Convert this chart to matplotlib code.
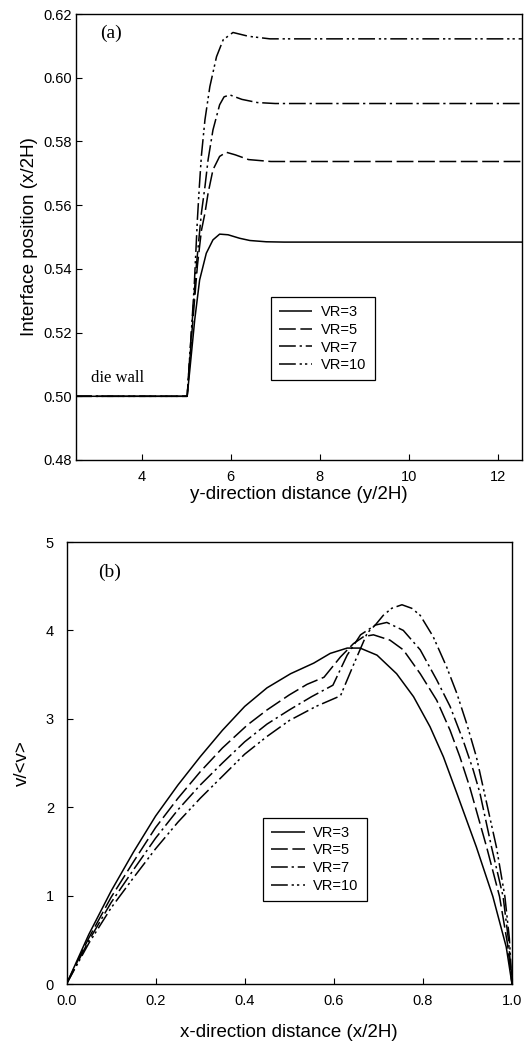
import matplotlib
matplotlib.use("Agg")
import matplotlib.pyplot as plt
from matplotlib.ticker import FormatStrFormatter

plt.rcParams['font.family'] = ['Liberation Sans', 'DejaVu Sans']

# ---------------- data: panel (a) interface position ----------------
labels = ["VR=3", "VR=5", "VR=7", "VR=10"]

a_x_vr3 = [2.5, 5.02, 5.08, 5.19, 5.30, 5.45, 5.60, 5.75, 5.94, 6.20, 6.43, 6.8, 7.2, 12.6]
a_y_vr3 = [0.5, 0.5, 0.5083, 0.524, 0.5365, 0.5449, 0.5491, 0.5509, 0.5507, 0.5496, 0.5489, 0.5485, 0.5484, 0.5484]

a_x_vr5 = [2.5, 5.02, 5.12, 5.25, 5.34, 5.42, 5.49, 5.60, 5.75, 5.90, 6.10, 6.40, 6.90, 12.6]
a_y_vr5 = [0.5, 0.5, 0.519, 0.541, 0.552, 0.5575, 0.5637, 0.5711, 0.5753, 0.5766, 0.5758, 0.5743, 0.5737, 0.5737]

a_x_vr7 = [2.5, 5.02, 5.11, 5.22, 5.34, 5.42, 5.49, 5.60, 5.75, 5.85, 5.98, 6.25, 6.60, 7.0, 12.6]
a_y_vr7 = [0.5, 0.5, 0.519, 0.540, 0.5575, 0.5658, 0.5742, 0.5836, 0.5915, 0.5940, 0.5946, 0.5932, 0.5922, 0.5919, 0.5919]

a_x_vr10 = [2.5, 5.02, 5.10, 5.18, 5.25, 5.29, 5.34, 5.42, 5.53, 5.68, 5.83, 6.05, 6.4, 6.88, 12.6]
a_y_vr10 = [0.5, 0.5, 0.517, 0.535, 0.5555, 0.5650, 0.5755, 0.5868, 0.5972, 0.6066, 0.6119, 0.6142, 0.6130, 0.6122, 0.6122]

a_xticks = [4, 6, 8, 10, 12]
a_yticks = [0.48, 0.50, 0.52, 0.54, 0.56, 0.58, 0.60, 0.62]

# ---------------- data: panel (b) velocity profile ----------------
b_x_vr3 = [0, 0.05, 0.10, 0.15, 0.20, 0.25, 0.30, 0.35, 0.40, 0.45, 0.503, 0.555,
           0.592, 0.630, 0.659, 0.697, 0.741, 0.779, 0.816, 0.846, 0.876, 0.920, 0.957, 0.987, 1.0]
b_y_vr3 = [0, 0.56, 1.05, 1.49, 1.90, 2.25, 2.57, 2.87, 3.14, 3.35, 3.51, 3.63,
           3.74, 3.80, 3.80, 3.72, 3.51, 3.25, 2.91, 2.57, 2.16, 1.55, 0.99, 0.42, 0]

b_x_vr5 = [0, 0.05, 0.10, 0.15, 0.20, 0.25, 0.30, 0.35, 0.406, 0.45, 0.50, 0.54, 0.578, 0.615,
           0.644, 0.667, 0.689, 0.726, 0.756, 0.794, 0.831, 0.861, 0.883, 0.905, 0.943, 0.972, 0.990, 1.0]
b_y_vr5 = [0, 0.52, 0.98, 1.38, 1.77, 2.10, 2.40, 2.67, 2.93, 3.10, 3.27, 3.39, 3.47, 3.70,
           3.85, 3.93, 3.95, 3.89, 3.78, 3.51, 3.21, 2.87, 2.57, 2.23, 1.55, 0.99, 0.45, 0]

b_x_vr7 = [0, 0.05, 0.10, 0.15, 0.20, 0.25, 0.30, 0.35, 0.40, 0.45, 0.50, 0.55, 0.598, 0.630, 0.660,
           0.693, 0.719, 0.756, 0.794, 0.831, 0.861, 0.890, 0.913, 0.928, 0.954, 0.980, 0.992, 1.0]
b_y_vr7 = [0, 0.49, 0.92, 1.29, 1.65, 1.97, 2.25, 2.50, 2.74, 2.94, 3.10, 3.25, 3.38, 3.72, 3.95,
           4.06, 4.09, 4.00, 3.78, 3.44, 3.14, 2.76, 2.42, 2.16, 1.55, 0.99, 0.50, 0]

b_x_vr10 = [0, 0.05, 0.10, 0.15, 0.20, 0.25, 0.30, 0.35, 0.40, 0.45, 0.50, 0.56, 0.615, 0.645,
            0.675, 0.693, 0.711, 0.730, 0.753, 0.775, 0.794, 0.823, 0.853, 0.876, 0.898, 0.920, 0.935,
            0.965, 0.984, 0.994, 1.0]
b_y_vr10 = [0, 0.46, 0.86, 1.20, 1.53, 1.83, 2.10, 2.35, 2.60, 2.80, 2.98, 3.14, 3.26, 3.62,
            3.97, 4.06, 4.17, 4.25, 4.29, 4.25, 4.17, 3.93, 3.59, 3.29, 2.95, 2.57, 2.23,
            1.55, 0.99, 0.52, 0]

b_xticks = [0.0, 0.2, 0.4, 0.6, 0.8, 1.0]
b_yticks = [0, 1, 2, 3, 4, 5]

# ---------------- styles ----------------
dash_styles = [
    (0, ()),
    (0, (11, 3)),
    (0, (11, 2.5, 1.5, 2.5)),
    (0, (11, 2.5, 1.5, 2, 1.5, 2.5)),
]
lw = 1.1

fig = plt.figure(figsize=(5.25, 10.47), dpi=100)

ax1 = fig.add_axes([76 / 525, 1 - 460 / 1047, 446 / 525, 446 / 1047])
ax2 = fig.add_axes([66.5 / 525, 1 - 984 / 1047, 445.5 / 525, 442 / 1047])

series_a = [(a_x_vr3, a_y_vr3), (a_x_vr5, a_y_vr5), (a_x_vr7, a_y_vr7), (a_x_vr10, a_y_vr10)]
series_b = [(b_x_vr3, b_y_vr3), (b_x_vr5, b_y_vr5), (b_x_vr7, b_y_vr7), (b_x_vr10, b_y_vr10)]

for (x, y), ls, lab in zip(series_a, dash_styles, labels):
    ax1.plot(x, y, color='black', lw=lw, linestyle=ls, label=lab)
for (x, y), ls, lab in zip(series_b, dash_styles, labels):
    ax2.plot(x, y, color='black', lw=lw, linestyle=ls, label=lab)

ax1.set_xlim(2.52, 12.55)
ax1.set_ylim(0.48, 0.62)
ax1.set_xticks(a_xticks)
ax1.set_yticks(a_yticks)
ax1.yaxis.set_major_formatter(FormatStrFormatter('%.2f'))
ax1.set_xlabel("y-direction distance (y/2H)", fontsize=13.5, labelpad=2)
ax1.set_ylabel("Interface position (x/2H)", fontsize=13.5, labelpad=4)
ax1.tick_params(axis='x', direction='in', length=4, width=0.8, labelsize=10.5, pad=7)
ax1.tick_params(axis='y', direction='in', length=4, width=0.8, labelsize=10.5, pad=3)
ax1.text(3.06, 0.614, "(a)", family='Liberation Serif', fontsize=14, va='center', ha='left')
ax1.text(2.86, 0.5057, "die wall", family='Liberation Serif', fontsize=12, va='center', ha='left')

ax2.set_xlim(0, 1.0)
ax2.set_ylim(0, 5)
ax2.set_xticks(b_xticks)
ax2.set_yticks(b_yticks)
ax2.xaxis.set_major_formatter(FormatStrFormatter('%.1f'))
ax2.set_xlabel("x-direction distance (x/2H)", fontsize=13.5, labelpad=12)
ax2.set_ylabel("v/<v>", fontsize=13.5, labelpad=11)
ax2.tick_params(axis='x', direction='in', length=4, width=0.8, labelsize=10.5, pad=7)
ax2.tick_params(axis='y', direction='in', length=4, width=0.8, labelsize=10.5, pad=9)
ax2.text(0.07, 4.66, "(b)", family='Liberation Serif', fontsize=14, va='center', ha='left')

for ax in (ax1, ax2):
    for s in ax.spines.values():
        s.set_linewidth(1.0)

leg_kw = dict(fontsize=10.5, frameon=True, fancybox=False, framealpha=1, edgecolor='black',
              handlelength=2.3, handletextpad=0.6, borderpad=0.55, labelspacing=0.25,
              borderaxespad=0, loc='upper left')
l1 = ax1.legend(bbox_to_anchor=(0.437, 0.365), **leg_kw)
l2 = ax2.legend(bbox_to_anchor=(0.441, 0.376), **leg_kw)
for l in (l1, l2):
    l.get_frame().set_linewidth(0.9)

fig.savefig("out.png", dpi=100)
